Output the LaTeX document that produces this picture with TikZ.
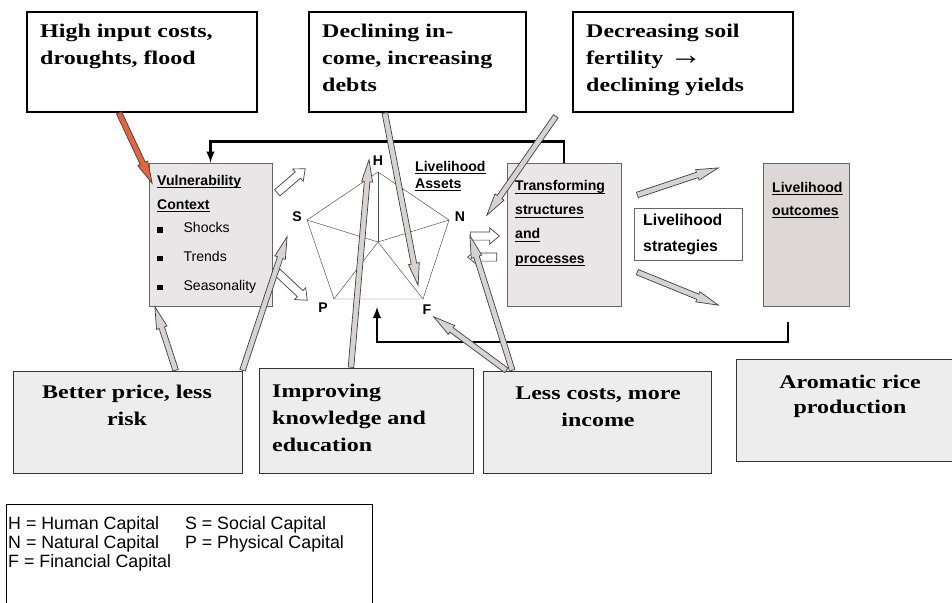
\documentclass[tikz,border=0pt]{standalone}
\usepackage{fontspec}
\usepackage{tikz}
\usetikzlibrary{positioning}
\usetikzlibrary{shapes,arrows, positioning, calc}

\newfontfamily\arialfont{Liberation Sans}
\newfontfamily\palfont[FakeStretch=1.24]{Liberation Serif}
\newcommand{\undl}[1]{\setbox0\hbox{#1}\rlap{\rule[-2.3pt]{\wd0}{0.9pt}}\box0}
\def\px{0.03cm}

\definecolor{panelgray}{RGB}{232,230,230}
\definecolor{outgray}{RGB}{221,215,215}
\definecolor{notegray}{RGB}{238,237,237}
\definecolor{arrgray}{RGB}{216,210,210}
\definecolor{droughtred}{RGB}{230,100,60}

\tikzset{
  sz/.style 2 args={minimum width=#1*\px, minimum height=#2*\px},
  topnote/.style={draw=black, line width=0.9pt, fill=white, inner sep=0pt},
  botnote/.style={draw=black!80, line width=0.7pt, fill=notegray, inner sep=0pt},
  panel/.style={draw=black!60, line width=0.6pt, fill=panelgray, inner sep=0pt},
  bigtxt/.style={font=\fontsize{16.5}{23}\palfont\bfseries, inner sep=0pt},
  sanstxt/.style={font=\fontsize{12}{20.5}\arialfont\bfseries, inner sep=0pt, align=left},
  capital/.style={font=\fontsize{12}{14}\arialfont\bfseries, inner sep=0pt},
  feedback/.style={line width=2.2pt, -latex},
  blockarr/.style={single arrow, draw=black!75, line width=0.6pt, fill=arrgray,
    inner xsep=0pt, inner ysep=2.1pt, single arrow head extend=2.3pt,
    single arrow tip angle=28, single arrow head indent=0pt},
  hollow/.style={fill=white, inner ysep=3.2pt, single arrow head extend=3.4pt,
    single arrow tip angle=80},
}

\newcommand{\blockarrow}[3][]{%
  \path let \p1=($(#3)-(#2)$), \n1={atan2(\y1,\x1)}, \n2={veclen(\x1,\y1)} in
    node[blockarr, #1, minimum height=\n2, rotate=\n1, anchor=tail] at (#2) {};}

\begin{document}
\begin{tikzpicture}[x=0.03cm, y=-0.03cm]
    \useasboundingbox (0,0) rectangle (952,602);

    % stress boxes on top (text placed by its last baseline)
    \node[topnote, sz={230}{100}] (inputs) at (142,62) {};
    \node[bigtxt, anchor=base west, align=left] at (40,64) {High input costs,\\droughts, flood};
    \node[topnote, sz={217}{100}] (income) at (417.5,62) {};
    \node[bigtxt, anchor=base west, align=left] at (322,91) {Declining in-\\come, increasing\\debts};
    \node[topnote, sz={220}{100}] (soil) at (683,62) {};
    \node[bigtxt, anchor=base west, align=left] at (586,91) {Decreasing soil\\fertility {\arialfont\bfseries\scalebox{1.7}[1.5]{→}}\\declining yields};

    % vulnerability context
    \node[panel, sz={123}{143}] (vuln) at (210.5,234.5) {};
    \node[sanstxt, anchor=base west] at (157,290) {\undl{Vulnerability}\\\undl{Context}\\[-1pt]
      \rule{4.5pt}{4.5pt}\hspace{18pt}\mdseries Shocks\\[4pt]
      \rule{4.5pt}{4.5pt}\hspace{18pt}\mdseries Trends\\[4pt]
      \rule{4.5pt}{4.5pt}\hspace{18pt}\mdseries Seasonality};

    % asset pentagon
    \coordinate (hv) at (378,172);
    \coordinate (sv) at (307,220);
    \coordinate (nv) at (449,220);
    \coordinate (fv) at (423,299);
    \coordinate (pv) at (334,299);
    \coordinate (mid) at (378,242);
    \draw[black!70, line width=0.4pt] (hv) -- (nv) -- (fv) -- (pv) -- (sv) -- cycle;
    \foreach \v in {hv,sv,nv,fv,pv}
        \draw[black!70, line width=0.4pt] (mid) -- (\v);
    \node[capital] (hlab) at (378,161) {H};
    \node[capital] (slab) at (297,217) {S};
    \node[capital] (nlab) at (460,217) {N};
    \node[capital] (plab) at (323,308) {P};
    \node[capital] (flab) at (427,310) {F};
    \node[sanstxt, font=\fontsize{12}{14.5}\arialfont\bfseries, anchor=base west] (assets) at (415,188) {\undl{Livelihood}\\\undl{Assets}};

    % structures, strategies, outcomes
    \node[panel, sz={114}{143}] (trans) at (564,234.5) {};
    \node[sanstxt, anchor=base west] at (515,263) {\undl{Transforming}\\\undl{structures}\\\undl{and}\\\undl{processes}};
    \node[draw=black!60, line width=0.6pt, fill=white, sz={108}{52}] (strat) at (688,234) {};
    \node[sanstxt, font=\fontsize{13.5}{22}\arialfont\bfseries, anchor=base west] at (643,251) {Livelihood\\strategies};
    \node[panel, fill=outgray, sz={86}{143}] (outc) at (806,234.5) {};
    \node[sanstxt, font=\fontsize{12}{19.6}\arialfont\bfseries, anchor=base west] at (772,215) {\undl{Livelihood}\\\undl{outcomes}};

    % feedback loops
    \draw[feedback] (trans.north) -- ++(0,-21) -| (vuln.north);
    \coordinate (outfoot) at (788,322);
    \coordinate (assetfoot) at (377,307);
    \draw[feedback] (outfoot) -- ++(0,20) -| (assetfoot);

    % improvement boxes below
    \node[botnote, sz={229}{102}] (better) at (127.5,422) {};
    \node[bigtxt, anchor=base, align=center] at (127,425) {Better price, less\\risk};
    \node[botnote, sz={214}{105}] (knowledge) at (366,420.5) {};
    \node[bigtxt, anchor=base west, align=left] at (272,451) {Improving\\knowledge and\\education};
    \node[botnote, sz={228}{102}] (costs) at (597,422) {};
    \node[bigtxt, anchor=base, align=center] at (598,426) {Less costs, more\\income};
    \node[botnote, sz={228}{102}] (rice) at (850,410) {};
    \node[bigtxt, font=\fontsize{16.5}{20.5}\palfont\bfseries, anchor=base, align=center] at (850,413) {Aromatic rice\\production};

    % legend
    \node[draw=black, line width=0.6pt, sz={366}{136}] (legend) at (189,572) {};
    \node[inner sep=0pt, anchor=base west, font=\fontsize{15.2}{16.6}\arialfont] at (8,529) {%
      \begin{tabular}[t]{@{}l@{\hspace{12pt}}l@{}}
        H = Human Capital & S = Social Capital\\
        N = Natural Capital & P = Physical Capital\\
        F = Financial Capital &
      \end{tabular}};

    % hollow arrows
    \coordinate (vout1) at (277,193); \coordinate (vin1) at (305,169);
    \coordinate (vout2) at (277,272); \coordinate (vin2) at (307,300);
    \coordinate (aout) at (470,236);  \coordinate (tin) at (499,236);
    \coordinate (tout) at (497,257);  \coordinate (ain) at (468,257);
    \blockarrow[hollow]{vout1}{vin1}
    \blockarrow[hollow]{vout2}{vin2}
    \blockarrow[hollow]{aout}{tin}
    \blockarrow[hollow]{tout}{ain}

    % strategy arrows
    \coordinate (sout1) at (637,195); \coordinate (sin1) at (718,168);
    \coordinate (sout2) at (637,272); \coordinate (sin2) at (718,305);
    \blockarrow{sout1}{sin1}
    \blockarrow{sout2}{sin2}

    % stresses and improvements
    \coordinate (redtip) at (152,183);
    \blockarrow[fill=droughtred]{$(inputs.south west)!0.4!(inputs.south east)$}{redtip}
    \coordinate (debtip) at (418,285);
    \blockarrow{$(income.south west)!0.35!(income.south east)$}{debtip}
    \coordinate (soilfoot) at (556,116);
    \coordinate (soiltip) at (487,215);
    \blockarrow{soilfoot}{soiltip}
    \coordinate (vulntip) at (155,307);
    \blockarrow{$(better.north west)!0.71!(better.north east)$}{vulntip}
    \coordinate (stip) at (287,237);
    \blockarrow{better.north east}{stip}
    \coordinate (htip) at (369,160);
    \blockarrow{$(knowledge.north west)!0.43!(knowledge.north east)$}{htip}
    \coordinate (ntip) at (470,236);
    \blockarrow{$(costs.north west)!0.13!(costs.north east)$}{ntip}
    \coordinate (ftip) at (434,317);
    \blockarrow{$(costs.north west)!0.105!(costs.north east)$}{ftip}
\end{tikzpicture}
\end{document}
